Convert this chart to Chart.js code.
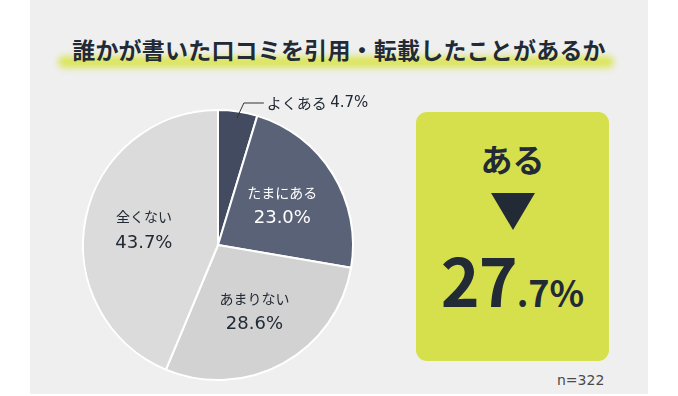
<!DOCTYPE html>
<html lang="ja">
<head>
<meta charset="utf-8">
<script src="https://cdn.jsdelivr.net/npm/chart.js@4"></script>
<style>
  html, body { margin: 0; padding: 0; background: #fff; }
  body { width: 678px; height: 396px; position: relative; overflow: hidden;
         font-family: "Noto Sans CJK JP", "Noto Sans", sans-serif; color: #222a35; }
  #panel { position: absolute; left: 30px; top: 0; width: 618px; height: 394px; background: #efefef; }
  #mark { position: absolute; left: 58px; top: 56px; width: 556px; height: 12px;
          background: #dbe55e; border-radius: 8px; filter: blur(3px); }
  #title { position: absolute; left: 0; width: 678px; top: 32px; text-align: center;
           font-size: 23px; font-weight: 700; letter-spacing: 0.2px; }
  #chartBox { position: absolute; left: 0; top: 0; width: 678px; height: 396px; }
  #green { position: absolute; left: 416px; top: 112px; width: 193px; height: 249px;
           background: #d6e04c; border-radius: 11px; }
  #aru { position: absolute; left: 416px; width: 193px; top: 138px; text-align: center;
         font-size: 32px; font-weight: 700; line-height: 40px; }
  #tri { position: absolute; left: 491px; top: 193px; width: 0; height: 0;
         border-left: 22px solid transparent; border-right: 22px solid transparent;
         border-top: 37px solid #222a35; }
  #big { position: absolute; left: 416px; width: 193px; top: 238px; text-align: center;
         font-weight: 700; line-height: 80px; white-space: nowrap; }
  #big .a { font-size: 66px; letter-spacing: -1px; }
  #big .b { font-size: 36px; }
  #note { position: absolute; left: 557px; top: 372px; font-size: 14px; color: #4a4a4a;
          font-family: "DejaVu Sans", sans-serif; }
</style>
</head>
<body>
<div id="panel"></div>
<div id="mark"></div>
<div id="title">誰かが書いた口コミを引用・転載したことがあるか</div>
<div id="green"></div>
<div id="aru">ある</div>
<div id="tri"></div>
<div id="big"><span class="a">27</span><span class="b">.7%</span></div>
<div id="note">n=322</div>
<div id="chartBox"><canvas id="pieChart" width="678" height="396"></canvas></div>
<script>
const labels = ["よくある", "たまにある", "あまりない", "全くない"];
const values = [4.7, 23.0, 28.6, 43.7];
const colors = ["#434b60", "#5a6278", "#d2d2d2", "#dbdbdb"];
const textColors = ["#222a35", "#ffffff", "#222a35", "#222a35"];

const nameFont = '14px "Noto Sans CJK JP"';
const pctFont = '18px "DejaVu Sans", "Noto Sans CJK JP"';

const sliceLabels = {
  id: "sliceLabels",
  afterDatasetsDraw(chart) {
    const ctx = chart.ctx;
    const arcs = chart.getDatasetMeta(0).data;
    ctx.save();
    arcs.forEach((arc, i) => {
      const mid = (arc.startAngle + arc.endAngle) / 2;
      const pct = values[i].toFixed(1) + "%";
      ctx.fillStyle = textColors[i];
      ctx.textBaseline = "middle";
      if (i === 0) {
        // small slice gets a leader line and an outside label
        const r = arc.outerRadius * 0.95;
        const x0 = arc.x + Math.cos(mid) * r;
        const y0 = arc.y + Math.sin(mid) * r;
        const ly = arc.y - arc.outerRadius - 7;
        ctx.strokeStyle = "#333";
        ctx.lineWidth = 1;
        ctx.beginPath();
        ctx.moveTo(x0, y0);
        ctx.lineTo(x0 + 7, ly);
        ctx.lineTo(x0 + 27, ly);
        ctx.stroke();
        ctx.textAlign = "left";
        ctx.font = '15px "Noto Sans CJK JP"';
        ctx.fillText(labels[i] + " ", x0 + 30, ly);
        const w = ctx.measureText(labels[i] + " ").width;
        ctx.font = '15px "DejaVu Sans", "Noto Sans CJK JP"';
        ctx.fillText(pct, x0 + 30 + w, ly);
        return;
      }
      const r = arc.outerRadius * 0.56;
      const x = arc.x + Math.cos(mid) * r;
      const y = arc.y + Math.sin(mid) * r;
      ctx.textAlign = "center";
      ctx.font = nameFont;
      ctx.fillText(labels[i], x, y - 13);
      ctx.font = pctFont;
      ctx.fillText(pct, x, y + 13);
    });
    ctx.restore();
  },
};

const ctx = document.getElementById("pieChart").getContext("2d");

const chart = new Chart(ctx, {
  type: "pie",
  data: {
    labels: labels,
    datasets: [
      {
        data: values,
        backgroundColor: colors,
        borderColor: "#ffffff",
        borderWidth: 2,
      },
    ],
  },
  options: {
    responsive: false,
    animation: false,
    layout: {
      padding: { left: 82, right: 324, top: 109, bottom: 15 },
    },
    plugins: {
      legend: { display: false },
      tooltip: { enabled: false },
    },
  },
  plugins: [sliceLabels],
});
</script>
</body>
</html>
